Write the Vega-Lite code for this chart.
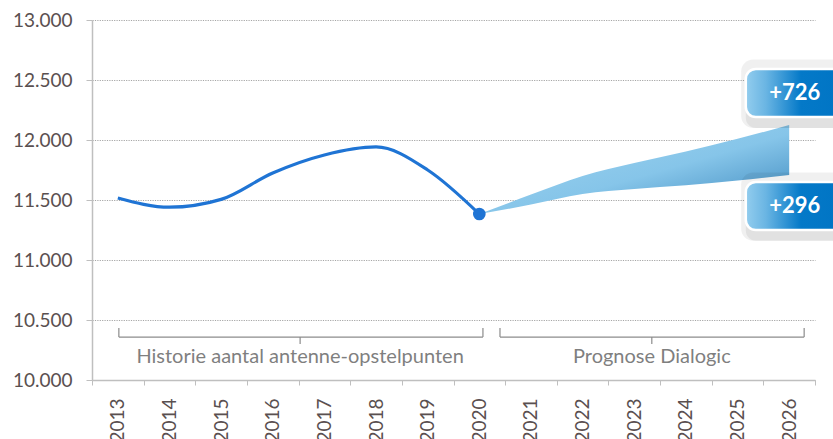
{
  "$schema": "https://vega.github.io/schema/vega-lite/v6.json",
  "width": 723,
  "height": 360,
  "autosize": {"type": "none"},
  "padding": {"left": 92, "top": 20, "right": 18, "bottom": 59},
  "background": "white",
  "config": {
    "locale": {"number": {"decimal": ",", "thousands": ".", "grouping": [3], "currency": ["€ ", ""]}},
    "view": {"stroke": null},
    "font": "Lato"
  },
  "datasets": {
    "history": [
      {"year": "2013", "value": 11517},
      {"year": "2014", "value": 11440},
      {"year": "2015", "value": 11505},
      {"year": "2016", "value": 11725},
      {"year": "2017", "value": 11875},
      {"year": "2018", "value": 11942},
      {"year": "2019", "value": 11750},
      {"year": "2020", "value": 11383}
    ],
    "forecast": [
      {"year": "2020", "low": 11383, "high": 11383},
      {"year": "2021", "low": 11462, "high": 11545},
      {"year": "2022", "low": 11550, "high": 11700},
      {"year": "2023", "low": 11592, "high": 11808},
      {"year": "2024", "low": 11622, "high": 11905},
      {"year": "2025", "low": 11662, "high": 12010},
      {"year": "2026", "low": 11708, "high": 12125}
    ],
    "brackets": [
      {"x": 0.52, "x2": 7.57, "y": 10358, "y2": 10358},
      {"x": 0.52, "x2": 0.52, "y": 10433, "y2": 10358},
      {"x": 7.57, "x2": 7.57, "y": 10433, "y2": 10358},
      {"x": 4.03, "x2": 4.03, "y": 10358, "y2": 10300},
      {"x": 7.9, "x2": 13.79, "y": 10358, "y2": 10358},
      {"x": 7.9, "x2": 7.9, "y": 10433, "y2": 10358},
      {"x": 13.79, "x2": 13.79, "y": 10433, "y2": 10358},
      {"x": 10.84, "x2": 10.84, "y": 10358, "y2": 10300}
    ],
    "bracketLabels": [
      {"x": 4.03, "y": 10195, "label": "Historie aantal antenne-opstelpunten"},
      {"x": 10.84, "y": 10195, "label": "Prognose Dialogic"}
    ],
    "boxes": [
      {"x": 12.66, "x2": 14.6, "y": 12192, "y2": 12592, "sx": 12.57, "sx2": 14.8, "sy": 12100, "sy2": 12670, "tx": 13.61, "ty": 12392, "label": "+726"},
      {"x": 12.66, "x2": 14.6, "y": 11250, "y2": 11650, "sx": 12.57, "sx2": 14.8, "sy": 11160, "sy2": 11730, "tx": 13.61, "ty": 11450, "label": "+296"}
    ]
  },
  "layer": [
    {
      "layer": [
        {
          "data": {"name": "forecast"},
          "mark": {
            "type": "area",
            "interpolate": "monotone",
            "color": {"gradient": "linear", "x1": 0, "y1": 0, "x2": 1, "y2": 1,
              "stops": [{"offset": 0, "color": "#a3d6f1"}, {"offset": 0.55, "color": "#86c5e9"}, {"offset": 1, "color": "#3784bb"}]}
          },
          "encoding": {
            "x": {"field": "year", "type": "ordinal", "scale": {"type": "band", "domain": ["2013","2014","2015","2016","2017","2018","2019","2020","2021","2022","2023","2024","2025","2026"], "paddingInner": 0, "paddingOuter": 0},
              "axis": {"title": null, "labelAngle": -90, "labelAlign": "right", "labelBaseline": "middle", "tickBand": "extent", "tickSize": 5, "tickColor": "#bfbfbf", "domainColor": "#bfbfbf", "domainWidth": 1.5, "labelFontSize": 19, "labelColor": "#5a5050", "labelPadding": 13, "grid": false}},
            "y": {"field": "high", "type": "quantitative", "scale": {"domain": [10000, 13000], "nice": false, "zero": false},
              "axis": {"title": null, "values": [10000, 10500, 11000, 11500, 12000, 12500, 13000], "format": ",d", "grid": true, "gridDash": [1.2, 1.2], "gridColor": "#a6a6a6", "tickSize": 6, "tickColor": "#bfbfbf", "domainColor": "#bfbfbf", "domainWidth": 1.5, "labelPadding": 14, "labelFontSize": 19, "labelColor": "#5a5050"}},
            "y2": {"field": "low"}
          }
        },
        {
          "data": {"name": "history"},
          "mark": {"type": "line", "interpolate": "monotone", "color": "#1f74d4", "strokeWidth": 3.2},
          "encoding": {
            "x": {"field": "year", "type": "ordinal", "scale": {"type": "band"}},
            "y": {"field": "value", "type": "quantitative"}
          }
        },
        {
          "data": {"name": "history"},
          "transform": [{"filter": "datum.year == '2020'"}],
          "mark": {"type": "circle", "color": "#1f74d4", "opacity": 1, "size": 160},
          "encoding": {
            "x": {"field": "year", "type": "ordinal", "scale": {"type": "band"}},
            "y": {"field": "value", "type": "quantitative"}
          }
        }
      ]
    },
    {
      "layer": [
        {
          "data": {"name": "brackets"},
          "mark": {"type": "rule", "color": "#8c8c8c", "strokeWidth": 1.2},
          "encoding": {
            "x": {"field": "x", "type": "quantitative", "scale": {"domain": [0, 14], "nice": false, "zero": false}, "axis": null},
            "x2": {"field": "x2"},
            "y": {"field": "y", "type": "quantitative"},
            "y2": {"field": "y2"}
          }
        },
        {
          "data": {"name": "bracketLabels"},
          "mark": {"type": "text", "color": "#7f7f7f", "fontSize": 20, "baseline": "middle", "align": "center"},
          "encoding": {
            "x": {"field": "x", "type": "quantitative"},
            "y": {"field": "y", "type": "quantitative"},
            "text": {"field": "label"}
          }
        },
        {
          "data": {"name": "boxes"},
          "mark": {"type": "rect", "color": "#000000", "opacity": 0.06, "cornerRadius": 12},
          "encoding": {
            "x": {"field": "sx", "type": "quantitative"},
            "x2": {"field": "sx2"},
            "y": {"field": "sy", "type": "quantitative"},
            "y2": {"field": "sy2"}
          }
        },
        {
          "data": {"name": "boxes"},
          "mark": {"type": "rect", "color": "#000000", "opacity": 0.06, "cornerRadius": 10},
          "encoding": {
            "x": {"field": "x", "type": "quantitative"},
            "x2": {"field": "sx2"},
            "y": {"field": "sy", "type": "quantitative"},
            "y2": {"field": "y2"}
          }
        },
        {
          "data": {"name": "boxes"},
          "mark": {"type": "rect", "cornerRadius": 10, "stroke": "white", "strokeWidth": 2.5,
            "fill": {"gradient": "linear", "x1": 0, "y1": 0, "x2": 1, "y2": 0,
              "stops": [{"offset": 0, "color": "#93cdee"}, {"offset": 0.2, "color": "#6ab5e3"}, {"offset": 0.55, "color": "#0479c8"}, {"offset": 1, "color": "#0074c4"}]}},
          "encoding": {
            "x": {"field": "x", "type": "quantitative"},
            "x2": {"field": "x2"},
            "y": {"field": "y", "type": "quantitative"},
            "y2": {"field": "y2"}
          }
        },
        {
          "data": {"name": "boxes"},
          "mark": {"type": "text", "color": "white", "fontSize": 22, "fontWeight": "bold", "baseline": "middle", "align": "center"},
          "encoding": {
            "x": {"field": "tx", "type": "quantitative"},
            "y": {"field": "ty", "type": "quantitative"},
            "text": {"field": "label"}
          }
        }
      ]
    }
  ],
  "resolve": {"scale": {"x": "independent"}}
}
